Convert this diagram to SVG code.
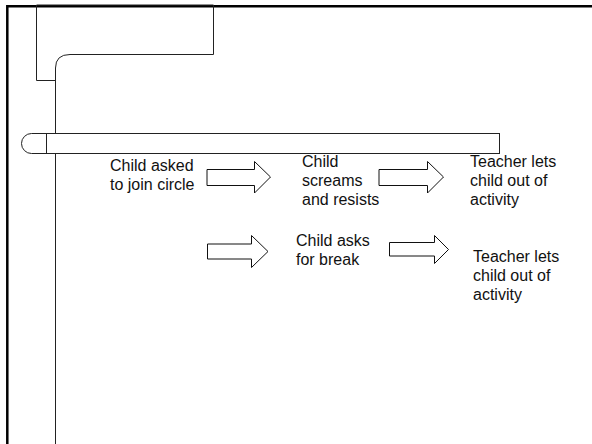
<svg xmlns="http://www.w3.org/2000/svg" width="592" height="444" viewBox="0 0 592 444">
<style>
.ln{fill:none;stroke:#222;stroke-width:1}
.sh{fill:#fff;stroke:#222;stroke-width:1}
.arr{fill:#fff;stroke:#111;stroke-width:1}
text{font-family:"Liberation Sans",Arial,sans-serif;font-size:16px;fill:#111}
</style>
<rect width="592" height="444" fill="#fff"/>
<g id="frame">
<path d="M7.3 444 V6.2 H592" fill="none" stroke="#000" stroke-width="2.5"/>
</g>
<g id="top-shape">
<path class="ln" d="M36.5 5 V80.5 H55.5 M55.5 444 V68 Q55.5 54.5 70 54.5 H213.5 V5 H36.5"/>
</g>
<g id="bar">
<path class="sh" d="M46.5 133.5 H31.5 A10 10 0 0 0 31.5 153.5 H46.5 Z"/>
<rect class="sh" x="46.5" y="133.5" width="453" height="20"/>
</g>
<g id="connectors">
<path class="arr" d="M207 169.5 H254.5 V161.5 L270.5 177 L254.5 193 V185.5 H207 Z"/>
<path class="arr" d="M379 169.5 H427.5 V161.5 L443.5 177 L427.5 193 V185.5 H379 Z"/>
<path class="arr" d="M207.5 244 H251.5 V235.5 L268 251.5 L251.5 267.5 V259 H207.5 Z"/>
<path class="arr" d="M389.5 242.5 H434.5 V235.5 L448.5 249.5 L434.5 263.5 V256 H389.5 Z"/>
</g>
<g id="n1"><text x="110" y="171">Child asked</text><text x="110" y="190">to join circle</text></g>
<g id="n2"><text x="302" y="167">Child</text><text x="302" y="186">screams</text><text x="302" y="205">and resists</text></g>
<g id="n3"><text x="470" y="167">Teacher lets</text><text x="470" y="186">child out of</text><text x="470" y="205">activity</text></g>
<g id="n4"><text x="296" y="246">Child asks</text><text x="296" y="265">for break</text></g>
<g id="n5"><text x="473" y="262">Teacher lets</text><text x="473" y="281">child out of</text><text x="473" y="300">activity</text></g>
</svg>
